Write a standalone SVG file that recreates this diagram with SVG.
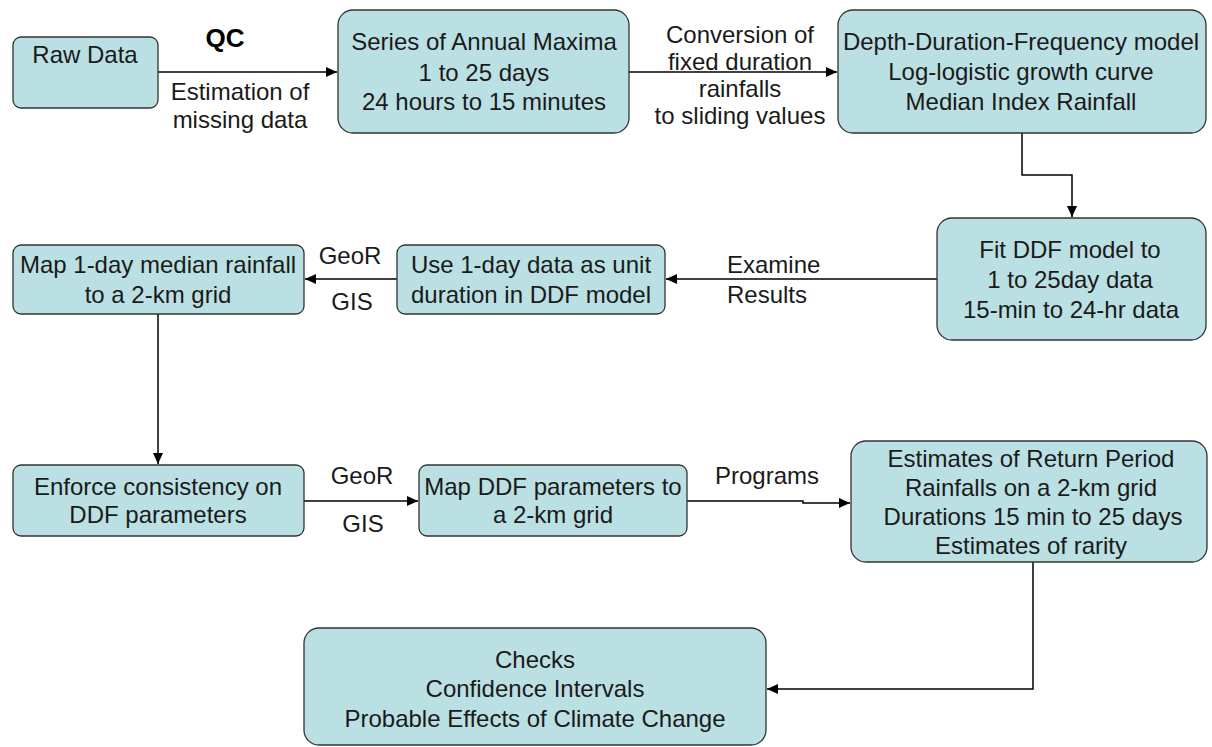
<svg xmlns="http://www.w3.org/2000/svg" width="1212" height="747" viewBox="0 0 1212 747">
<style>
  .box{fill:#BBE0E3;stroke:#333;stroke-width:1.3}
  .t{font-family:"Liberation Sans",Arial,sans-serif;font-size:24px;fill:#1a1a1a;text-anchor:middle}
  .l{font-family:"Liberation Sans",Arial,sans-serif;font-size:24px;fill:#1a1a1a}
  .qc{font-family:"Liberation Sans",Arial,sans-serif;font-size:26px;font-weight:bold;fill:#000;text-anchor:middle}
  .c{fill:none;stroke:#000;stroke-width:1.5}
</style>
<defs>
  <marker id="ah" markerUnits="userSpaceOnUse" markerWidth="12" markerHeight="10" refX="11" refY="5" orient="auto">
    <path d="M0,0 L11,5 L0,10 z" fill="#000"/>
  </marker>
</defs>
<rect width="1212" height="747" fill="#fff"/>
<g id="connectors">
  <path class="c" d="M158,72 H337" marker-end="url(#ah)"/>
  <path class="c" d="M629,72 H837" marker-end="url(#ah)"/>
  <path class="c" d="M1022,133 V175 H1072 V217" marker-end="url(#ah)"/>
  <path class="c" d="M937,279 H666" marker-end="url(#ah)"/>
  <path class="c" d="M397,279 H305" marker-end="url(#ah)"/>
  <path class="c" d="M158,314 V464" marker-end="url(#ah)"/>
  <path class="c" d="M304,501 H418" marker-end="url(#ah)"/>
  <path class="c" d="M687,501 H803 V503 H850" marker-end="url(#ah)"/>
  <path class="c" d="M1033,562 V689 H767" marker-end="url(#ah)"/>
  <text class="qc" x="225" y="47">QC</text>
  <text class="t" x="240" y="100">Estimation of</text>
  <text class="t" x="240" y="128">missing data</text>
  <text class="t" x="740" y="43">Conversion of</text>
  <text class="t" x="740" y="70">fixed duration</text>
  <text class="t" x="740" y="97">rainfalls</text>
  <text class="t" x="740" y="124">to sliding values</text>
  <text class="l" x="727" y="273">Examine</text>
  <text class="l" x="727" y="303">Results</text>
  <text class="t" x="350" y="264">GeoR</text>
  <text class="t" x="352" y="310">GIS</text>
  <text class="t" x="362" y="484">GeoR</text>
  <text class="t" x="363" y="532">GIS</text>
  <text class="t" x="767" y="484">Programs</text>
</g>
<g id="raw">
  <rect class="box" x="13" y="37" width="145" height="71" rx="8"/>
  <text class="t" x="85" y="63">Raw Data</text>
</g>
<g id="series">
  <rect class="box" x="338" y="10" width="291" height="123" rx="15"/>
  <text class="t" x="484" y="50">Series of Annual Maxima</text>
  <text class="t" x="484" y="81">1 to 25 days</text>
  <text class="t" x="484" y="110">24 hours to 15 minutes</text>
</g>
<g id="ddf">
  <rect class="box" x="838" y="10" width="368" height="123" rx="15"/>
  <text class="t" x="1021" y="50">Depth-Duration-Frequency model</text>
  <text class="t" x="1021" y="80">Log-logistic growth curve</text>
  <text class="t" x="1021" y="110">Median Index Rainfall</text>
</g>
<g id="fit">
  <rect class="box" x="937" y="218" width="269" height="122" rx="15"/>
  <text class="t" x="1070" y="258">Fit DDF model to</text>
  <text class="t" x="1070" y="288">1 to 25day data</text>
  <text class="t" x="1071" y="318">15-min to 24-hr data</text>
</g>
<g id="use">
  <rect class="box" x="397" y="245" width="268" height="69" rx="8"/>
  <text class="t" x="531" y="273">Use 1-day data as unit</text>
  <text class="t" x="531" y="303">duration in DDF model</text>
</g>
<g id="map1day">
  <rect class="box" x="13" y="245" width="291" height="69" rx="8"/>
  <text class="t" x="158" y="273">Map 1-day median rainfall</text>
  <text class="t" x="158" y="303">to a 2-km grid</text>
</g>
<g id="enforce">
  <rect class="box" x="13" y="465" width="291" height="71" rx="8"/>
  <text class="t" x="158" y="495">Enforce consistency on</text>
  <text class="t" x="158" y="523">DDF parameters</text>
</g>
<g id="mapddf">
  <rect class="box" x="419" y="465" width="268" height="71" rx="8"/>
  <text class="t" x="553" y="495">Map DDF parameters to</text>
  <text class="t" x="553" y="523">a 2-km grid</text>
</g>
<g id="estimates">
  <rect class="box" x="851" y="441" width="356" height="121" rx="15"/>
  <text class="t" x="1031" y="467">Estimates of Return Period</text>
  <text class="t" x="1031" y="496">Rainfalls on a  2-km grid</text>
  <text class="t" x="1033" y="525">Durations 15 min to 25 days</text>
  <text class="t" x="1031" y="554">Estimates of rarity</text>
</g>
<g id="checks">
  <rect class="box" x="304" y="628" width="462" height="117" rx="15"/>
  <text class="t" x="535" y="668">Checks</text>
  <text class="t" x="535" y="697">Confidence Intervals</text>
  <text class="t" x="535" y="727">Probable Effects of Climate Change</text>
</g>
</svg>
